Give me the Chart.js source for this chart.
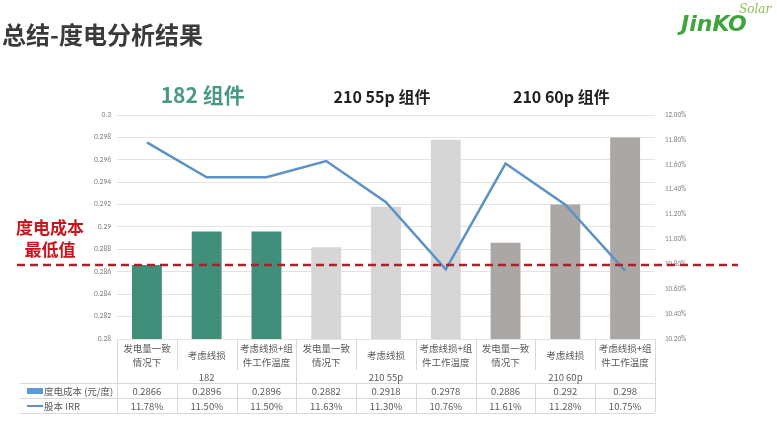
<!DOCTYPE html>
<html lang="zh">
<head>
<meta charset="utf-8">
<title>总结-度电分析结果</title>
<script src="https://cdn.jsdelivr.net/npm/chart.js@4.4.1/dist/chart.umd.min.js"></script>
<style>
  html, body { margin: 0; padding: 0; background: #fff; }
  #wrap { width: 777px; height: 424px; position: relative; }
</style>
</head>
<body>
<div id="wrap"><canvas id="grafico"></canvas></div>
<script>
// categorias (linhas do rótulo na tabela)
const categorias = [
  ['发电量一致', '情况下'], ['考虑线损'], ['考虑线损+组', '件工作温度'],
  ['发电量一致', '情况下'], ['考虑线损'], ['考虑线损+组', '件工作温度'],
  ['发电量一致', '情况下'], ['考虑线损'], ['考虑线损+组', '件工作温度']
];
const grupos = ['182', '210 55p', '210 60p'];
const titulosGrupo = ['182 组件', '210 55p 组件', '210 60p 组件'];
const grupoDe = [0, 0, 0, 1, 1, 1, 2, 2, 2];

const custo = [0.2866, 0.2896, 0.2896, 0.2882, 0.2918, 0.2978, 0.2886, 0.292, 0.298];
const irr = [11.78, 11.50, 11.50, 11.63, 11.30, 10.76, 11.61, 11.28, 10.75];

const ticksCusto = { min: 0.28, max: 0.3, passo: 0.002 };
const ticksIrr = { min: 10.2, max: 12.0, passo: 0.2 };

const coresGrupo = ['#3f8f7b', '#d6d6d6', '#aba7a5'];
const corLinha = '#5b93c6';
const corTexto = '#595959';
const corBorda = '#d9d9d9';
const fonteCJK = '"Noto Sans CJK SC", "Noto Sans", sans-serif';

const extras = {
  id: 'extras',
  afterDraw(chart) {
    const { ctx, chartArea: a, scales } = chart;
    const x = scales.x, yL = scales.y;
    const passo = x.getPixelForValue(1) - x.getPixelForValue(0);
    ctx.save();

    // título
    ctx.fillStyle = '#3a3a3a';
    ctx.font = 'bold 24px ' + fonteCJK;
    ctx.textBaseline = 'middle';
    ctx.textAlign = 'left';
    ctx.fillText('总结-度电分析结果', 2, 35);

    // logo
    ctx.fillStyle = '#3fa53a';
    ctx.font = 'italic bold 22px "DejaVu Sans", sans-serif';
    ctx.fillText('JinKO', 681, 25);
    ctx.fillStyle = '#8cc152';
    ctx.font = 'italic 12px "DejaVu Serif", serif';
    ctx.fillText('Solar', 739, 10);

    // títulos dos grupos
    ctx.textAlign = 'center';
    titulosGrupo.forEach((t, g) => {
      const cx = x.getPixelForValue(g * 3 + 1);
      if (g === 0) {
        ctx.fillStyle = '#4a9985';
        ctx.font = 'bold 21px ' + fonteCJK;
        ctx.fillText(t, cx - 4, 95);
      } else {
        ctx.fillStyle = '#222';
        ctx.font = 'bold 16px ' + fonteCJK;
        ctx.fillText(t, cx - 4, 97);
      }
    });

    // texto vermelho
    ctx.fillStyle = '#c8161d';
    ctx.font = 'bold 17px ' + fonteCJK;
    ctx.fillText('度电成本', 50, 228);
    ctx.fillText('最低值', 50, 250);

    // tabela
    const yCat = a.bottom, yFimCat = a.bottom + 31;
    const yLinhas = [a.bottom + 44, a.bottom + 59, a.bottom + 74];
    ctx.strokeStyle = corBorda;
    ctx.lineWidth = 1;
    ctx.beginPath();
    yLinhas.forEach(yy => { ctx.moveTo(20, yy + 0.5); ctx.lineTo(a.right, yy + 0.5); });
    for (let i = 0; i <= categorias.length; i++) {
      const xx = Math.round(a.left + i * passo) + 0.5;
      if (i % 3 === 0) {
        ctx.moveTo(xx, yCat); ctx.lineTo(xx, yLinhas[2]);
      } else {
        ctx.moveTo(xx, yCat); ctx.lineTo(xx, yFimCat);
        ctx.moveTo(xx, yLinhas[0]); ctx.lineTo(xx, yLinhas[2]);
      }
    }
    ctx.stroke();

    ctx.fillStyle = corTexto;
    ctx.font = '9.5px ' + fonteCJK;
    categorias.forEach((linhas, i) => {
      const cx = x.getPixelForValue(i);
      if (linhas.length === 1) {
        ctx.fillText(linhas[0], cx, a.bottom + 16);
      } else {
        ctx.fillText(linhas[0], cx, a.bottom + 9);
        ctx.fillText(linhas[1], cx, a.bottom + 23);
      }
    });
    grupos.forEach((g, gi) => {
      ctx.fillText(g, x.getPixelForValue(gi * 3 + 1), a.bottom + 38);
    });
    custo.forEach((v, i) => ctx.fillText(String(v), x.getPixelForValue(i), a.bottom + 52));
    irr.forEach((v, i) => ctx.fillText(v.toFixed(2) + '%', x.getPixelForValue(i), a.bottom + 67));

    // legenda da tabela
    ctx.fillStyle = '#5b9bd5';
    ctx.fillRect(27, a.bottom + 49, 16, 6);
    ctx.strokeStyle = corLinha;
    ctx.lineWidth = 2;
    ctx.beginPath();
    ctx.moveTo(27, a.bottom + 67); ctx.lineTo(43, a.bottom + 67);
    ctx.stroke();
    ctx.fillStyle = corTexto;
    ctx.textAlign = 'left';
    ctx.fillText('度电成本 (元/度)', 44, a.bottom + 52);
    ctx.fillText('股本 IRR', 44, a.bottom + 67);

    // linha tracejada no custo mínimo
    const yMin = Math.round(yL.getPixelForValue(Math.min(...custo)));
    ctx.strokeStyle = '#a8222a';
    ctx.lineWidth = 2.5;
    ctx.setLineDash([8, 5]);
    ctx.beginPath();
    ctx.moveTo(17, yMin); ctx.lineTo(738, yMin);
    ctx.stroke();
    ctx.restore();
  }
};

new Chart(document.getElementById('grafico'), {
  data: {
    labels: categorias.map(c => c.join('')),
    datasets: [
      {
        type: 'line',
        label: '股本 IRR',
        data: irr,
        yAxisID: 'y1',
        borderColor: corLinha,
        borderWidth: 2.5,
        pointRadius: 0,
        tension: 0,
        order: 0
      },
      {
        type: 'bar',
        label: '度电成本 (元/度)',
        data: custo,
        yAxisID: 'y',
        backgroundColor: grupoDe.map(g => coresGrupo[g]),
        categoryPercentage: 0.5,
        barPercentage: 1,
        order: 1
      }
    ]
  },
  options: {
    responsive: true,
    maintainAspectRatio: false,
    animation: false,
    layout: { padding: { top: 115, bottom: 85, left: 0, right: 0 } },
    plugins: { legend: { display: false }, tooltip: { enabled: false } },
    scales: {
      x: { display: false },
      y: {
        position: 'left',
        min: ticksCusto.min,
        max: ticksCusto.max,
        afterFit: s => { s.width = 117; },
        border: { display: false },
        grid: { color: '#e3e3e3', drawTicks: false },
        ticks: {
          stepSize: ticksCusto.passo,
          padding: 6,
          color: '#7f7f7f',
          font: { size: 7.5, family: 'Calibri, "Liberation Sans", sans-serif' },
          callback: v => String(+v.toFixed(3))
        }
      },
      y1: {
        position: 'right',
        min: ticksIrr.min,
        max: ticksIrr.max,
        afterFit: s => { s.width = 122; },
        border: { display: false },
        grid: { display: false, drawTicks: false },
        ticks: {
          stepSize: ticksIrr.passo,
          padding: 10,
          color: '#7f7f7f',
          font: { size: 7, family: 'Calibri, "Liberation Sans", sans-serif' },
          callback: v => v.toFixed(2) + '%'
        }
      }
    }
  },
  plugins: [extras]
});
</script>
</body>
</html>
